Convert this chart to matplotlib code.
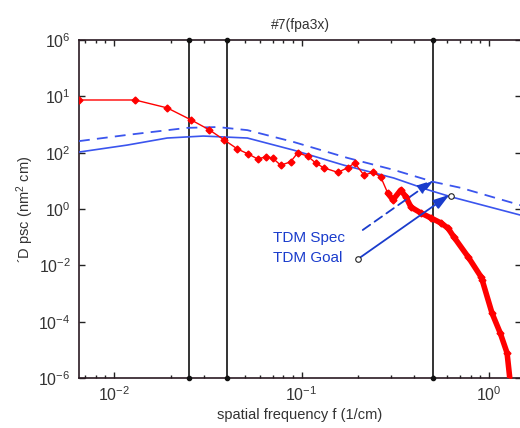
import matplotlib
matplotlib.use("Agg")
import matplotlib.pyplot as plt
from matplotlib.ticker import FixedLocator, FixedFormatter, LogLocator, NullFormatter, NullLocator

plt.rcParams['font.family'] = ['Liberation Sans', 'DejaVu Sans']
plt.rcParams['mathtext.fontset'] = 'custom'
plt.rcParams['mathtext.rm'] = 'Liberation Sans'
plt.rcParams['mathtext.it'] = 'Liberation Sans'

# measured PSD (red)
meas_f = [0.0065, 0.01294, 0.0192, 0.0258, 0.0322, 0.0387, 0.0455, 0.0521, 0.0582,
          0.0646, 0.0700, 0.0773, 0.0873, 0.0953, 0.1076, 0.1189, 0.1312, 0.156,
          0.176, 0.192, 0.215, 0.240, 0.264, 0.288, 0.307, 0.338, 0.360, 0.383,
          0.433, 0.490, 0.553, 0.604, 0.650, 0.773, 0.906, 0.919, 1.037, 1.146,
          1.247, 1.294]
meas_psd = [7413, 7413, 3890, 1445, 646, 282, 135, 89, 60,
            71, 65, 36, 47, 98, 76, 43, 29, 20,
            29, 43, 16, 20, 14, 3.7, 2.1, 4.7, 2.7, 1.17,
            0.72, 0.48, 0.32, 0.21, 0.10, 0.020, 0.0039, 0.0030, 2.0e-4, 4.0e-5,
            7.8e-6, 8e-7]

# TDM goal (solid blue)
goal_f = [0.0065, 0.01175, 0.0192, 0.0299, 0.0514, 0.0906, 0.168, 0.310, 0.472, 0.627, 1.48]
goal_psd = [105, 186, 331, 389, 331, 123, 36, 12.6, 4.8, 2.7, 0.60]

# TDM spec (dashed blue)
spec_f = [0.0065, 0.01175, 0.0245, 0.0356, 0.0514, 0.0906, 0.176, 0.310, 0.508, 0.710, 1.48]
spec_psd = [257, 427, 759, 813, 631, 240, 65, 24.5, 9.1, 5.6, 1.35]

# vertical band limits
vlines_f = [0.025, 0.04, 0.5]

ytick_vals = [1e6, 1e4, 1e2, 1e0, 1e-2, 1e-4, 1e-6]
ytick_labels = ['10$^{6}$', '10$^{1}$', '10$^{2}$', '10$^{0}$', '10$^{-2}$', '10$^{-4}$', '10$^{-6}$']
xtick_vals = [1e-2, 1e-1, 1e0]
xtick_labels = ['10$^{-2}$', '10$^{-1}$', '10$^{0}$']

line_blue = '#3b55ee'
text_blue = '#1a3ccc'

fig = plt.figure(figsize=(5.2, 4.28), dpi=100)
ax = fig.add_axes([79/520, 1-378/428, 442/520, 338/428])
ax.set_xscale('log')
ax.set_yscale('log')
ax.set_xlim(0.0065, 1.48)
ax.set_ylim(1e-6, 1e6)

for xv in vlines_f:
    ax.axvline(xv, color='#111111', lw=1.2, zorder=2)
    ax.plot([xv, xv], [1e-6, 1e6], 'o', color='#111111', ms=3, clip_on=False, zorder=5)

ax.plot(goal_f, goal_psd, '-', color=line_blue, lw=1.2, zorder=3)
ax.plot(spec_f, spec_psd, '--', color=line_blue, lw=1.3, dashes=(6, 4), zorder=3)
ax.plot(meas_f, meas_psd, '-', color='#ff0000', lw=1.0, marker='D', ms=3.5, zorder=4)
tail = [i for i, v in enumerate(meas_f) if v >= 0.28]
ax.plot([meas_f[i] for i in tail], [meas_psd[i] for i in tail], '-', color='#ff0000',
        lw=4.0, zorder=4, solid_capstyle='round', solid_joinstyle='round')

# annotations
astyle = '-|>,head_length=0.7,head_width=0.22'
ax.annotate('', xy=(0.508, 10.7), xytext=(0.212, 0.18),
            arrowprops=dict(arrowstyle=astyle, color=text_blue, lw=1.3, linestyle=(0, (5, 3)),
                            mutation_scale=14, shrinkA=0, shrinkB=0), zorder=6)
ax.annotate('', xy=(0.615, 3.2), xytext=(0.2, 0.0168),
            arrowprops=dict(arrowstyle=astyle, color=text_blue, lw=1.3,
                            mutation_scale=14, shrinkA=0, shrinkB=0), zorder=6)
ax.plot([0.2, 0.627], [0.0168, 3.0], 'o', mfc='white', mec='#222222', ms=4, mew=0.8, zorder=7)
ax.text(0.07, 0.095, 'TDM Spec', color=text_blue, fontsize=11, va='center', ha='left')
ax.text(0.07, 0.0185, 'TDM Goal', color=text_blue, fontsize=11, va='center', ha='left')

ax.yaxis.set_major_locator(FixedLocator(ytick_vals))
ax.yaxis.set_major_formatter(FixedFormatter(ytick_labels))
ax.yaxis.set_minor_locator(NullLocator())
ax.xaxis.set_major_locator(FixedLocator(xtick_vals))
ax.xaxis.set_major_formatter(FixedFormatter(xtick_labels))
ax.xaxis.set_minor_locator(LogLocator(base=10, subs=range(2, 10)))
ax.xaxis.set_minor_formatter(NullFormatter())
ax.tick_params(which='both', direction='in', top=True, right=True, colors='#222222',
               labelcolor='#333333', labelsize=11.5)
ax.tick_params(which='major', length=4, width=1)
ax.tick_params(which='minor', length=2, width=1)
ax.tick_params(axis='x', pad=5)
ax.tick_params(axis='y', pad=6)
for s in ax.spines.values():
    s.set_color('#2a1a22')
    s.set_linewidth(1.2)

ax.set_title('#7(fpa3x)', fontsize=10, color='#333333', pad=8)
ax.set_xlabel('spatial frequency f (1/cm)', fontsize=10.5, color='#333333', labelpad=3)
ax.set_ylabel('´D psc (nm$^{2}$ cm)', fontsize=10.5, color='#333333', labelpad=2)

fig.savefig('out.png', dpi=100)
